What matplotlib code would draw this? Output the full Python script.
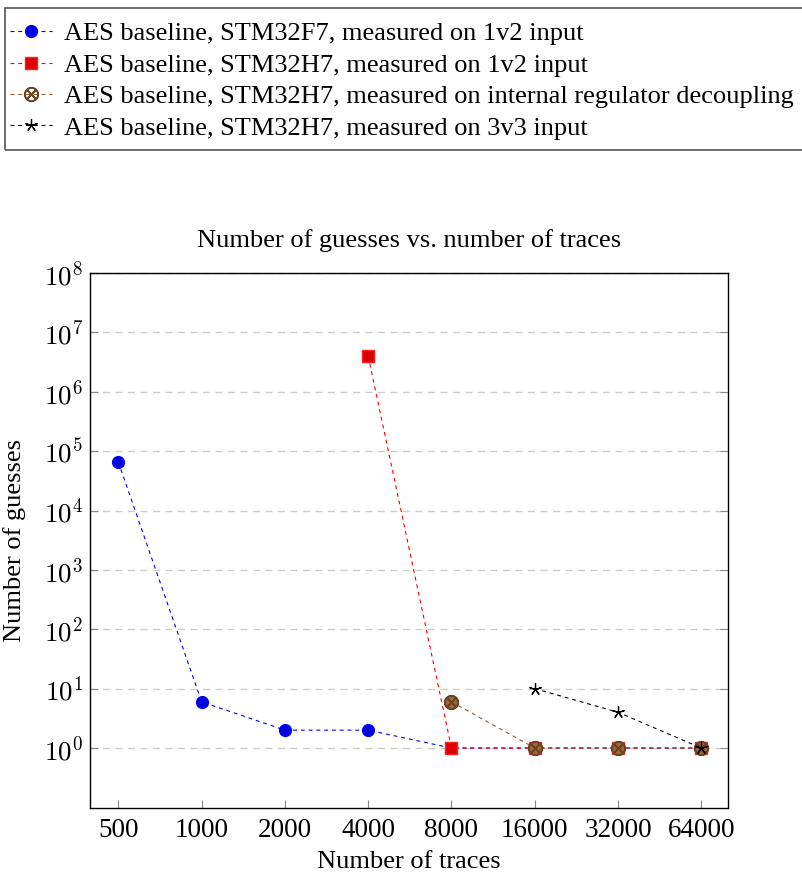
import matplotlib
matplotlib.use("Agg")
import matplotlib.pyplot as plt
from matplotlib.patches import Rectangle
from matplotlib.ticker import FixedLocator, NullLocator

plt.rcParams['font.family'] = ['Liberation Serif', 'DejaVu Serif']
plt.rcParams['mathtext.fontset'] = 'cm'

traces = [500, 1000, 2000, 4000, 8000, 16000, 32000, 64000]
x_labels = [str(t) for t in traces]

f7_x = [500, 1000, 2000, 4000, 8000, 16000, 32000, 64000]
f7_y = [65536, 6, 2, 2, 1, 1, 1, 1]
h7_x = [4000, 8000, 16000, 32000, 64000]
h7_y = [4e6, 1, 1, 1, 1]
dec_x = [8000, 16000, 32000, 64000]
dec_y = [6, 1, 1, 1]
v33_x = [16000, 32000, 64000]
v33_y = [10, 4, 1]

labels = [
    "AES baseline, STM32F7, measured on 1v2 input",
    "AES baseline, STM32H7, measured on 1v2 input",
    "AES baseline, STM32H7, measured on internal regulator decoupling",
    "AES baseline, STM32H7, measured on 3v3 input",
]

fig = plt.figure(figsize=(8.02, 8.75), dpi=100)
ax = fig.add_axes([90/802, 1-808/875, (728-90)/802, (808-273)/875])

ax.set_xscale('log', base=2)
ax.set_yscale('log')

dash = (0, (3.5, 3.5))
h1, = ax.plot(f7_x, f7_y, color='#0000ff', ls=dash, lw=0.8, marker='o', ms=8.5,
              mfc='#0000dd', mec='#0000ff', label=labels[0], zorder=3)
h2, = ax.plot(h7_x, h7_y, color='#ff0000', ls=dash, lw=0.8, marker='s', ms=8.5,
              mfc='#dd0000', mec='#ff2020', label=labels[1], zorder=4)
ax.plot(dec_x, dec_y, ls='none', marker='o', ms=8.5, mfc='#a0693c', mec='#a0693c', zorder=4.9)
h3, = ax.plot(dec_x, dec_y, color='#8c5e35', ls=dash, lw=0.8, marker='$\\otimes$', ms=10,
              mfc='#a0693c', mec='#6b4424', label=labels[2], zorder=5)
h4, = ax.plot(v33_x, v33_y, color='black', ls=dash, lw=0.8, marker=(5, 2, 0), ms=9,
              mfc='none', mec='black', mew=0.9, label=labels[3], zorder=6)

ax.set_xlim(500 * 2**-0.34, 64000 * 2**0.32)
ax.set_ylim(10**-1.01, 1e8)
ax.xaxis.set_major_locator(FixedLocator(traces))
ax.xaxis.set_minor_locator(NullLocator())
ax.set_xticks(traces)
ax.set_xticklabels(x_labels)
ax.yaxis.set_major_locator(FixedLocator([10.0**k for k in range(0, 9)]))
ax.yaxis.set_minor_locator(NullLocator())
ax.set_yticklabels([r'$10^{%d}$' % k for k in range(0, 9)])

ax.tick_params(axis='both', direction='in', length=6, width=0.8, color='#888888',
               top=False, right=True)
ax.tick_params(axis='y', labelsize=19.5, pad=5)
ax.tick_params(axis='x', labelsize=19.5, pad=7)
ax.grid(axis='y', which='major', ls=(0, (5, 4)), color='#cccccc', lw=1.0)
for s in ax.spines.values():
    s.set_linewidth(1.0)
    s.set_color('black')

ax.set_title("Number of guesses vs. number of traces", fontsize=19, pad=19)
ax.set_xlabel("Number of traces", fontsize=19, labelpad=6)
ax.set_ylabel("Number of guesses", fontsize=19)
ax.yaxis.set_label_coords(-0.1, 0.5)

# legend frame drawn separately (extends past the right edge, as in the reference)
fig.add_artist(Rectangle((5/802, 1-150/875), 1.0, 142/875, transform=fig.transFigure,
                         fill=False, ec='#555555', lw=1.2))
leg = fig.legend(handles=[h1, h2, h3, h4], labels=labels, loc='upper left',
                 bbox_to_anchor=(10/802, 1-22/875), fontsize=19, frameon=False,
                 handlelength=1.6, handletextpad=0.45, borderpad=0.0,
                 labelspacing=0.3, borderaxespad=0.0)

fig.savefig("out.png", dpi=100)
